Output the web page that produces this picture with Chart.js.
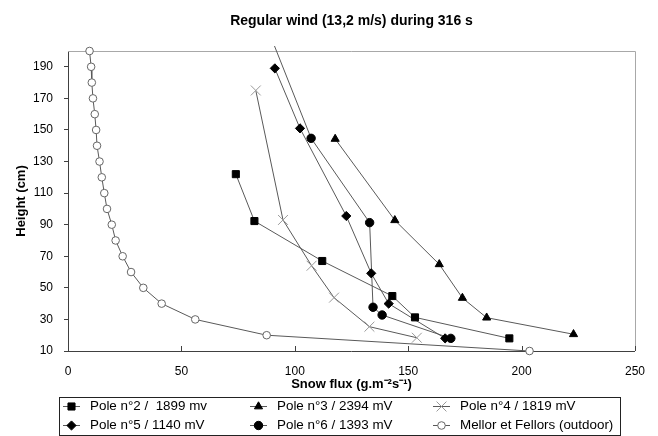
<!DOCTYPE html>
<html>
<head>
<meta charset="utf-8">
<script src="https://cdn.jsdelivr.net/npm/chart.js@4/dist/chart.umd.min.js"></script>
<style>
  html, body { margin: 0; padding: 0; background: #fff; }
</style>
</head>
<body>
<canvas id="chart" width="658" height="436"></canvas>
<script>
// values (x = snow flux, y = height)
const yTicks = [10, 30, 50, 70, 90, 110, 130, 150, 170, 190];

const pole2Flux   = [74, 82.2, 112.1, 143, 153, 194.6];
const pole2Height = [122, 92.3, 67, 44.8, 31.3, 18];

const pole3Flux   = [117.8, 144.1, 163.7, 173.9, 184.6, 222.9];
const pole3Height = [144.3, 92.8, 64.9, 43.6, 31.1, 20.6];

const pole4Flux   = [82.8, 94.8, 107.4, 117.3, 132.9, 153.8];
const pole4Height = [175, 93, 64, 43.8, 25.4, 18.4];

const pole5Flux   = [91.2, 102.3, 122.7, 133.7, 141.4, 166.3];
const pole5Height = [189, 151, 95.5, 59.2, 40, 18];

const pole6Flux   = [86.4, 107.2, 133, 134.5, 138.5, 168.8];
const pole6Height = [220, 144.7, 91.3, 37.7, 32.8, 18];

const mellorFlux   = [9.5, 10.2, 10.5, 11, 11.8, 12.4, 12.8, 13.9, 14.9, 16, 17.2, 19.3, 21, 24.1, 27.8, 33.2, 41.3, 56.1, 87.6, 203.5];
const mellorHeight = [200, 190, 180, 170, 160, 150, 140, 130, 120, 110, 100, 90, 80, 70, 60, 50, 40, 30, 20, 10];

const pts = (xs, ys) => xs.map((x, k) => ({ x, y: ys[k] }));

Chart.defaults.font.family = '"Liberation Sans", Arial, sans-serif';
Chart.defaults.font.size = 12;
Chart.defaults.color = '#000';

const LINE = '#595959';

function series(label, xs, ys, style, radius, fill, stroke) {
  return {
    label,
    data: pts(xs, ys),
    showLine: true,
    borderColor: LINE,
    borderWidth: 1,
    tension: 0,
    pointStyle: style,
    pointRadius: radius,
    pointBackgroundColor: fill,
    pointBorderColor: stroke,
    pointBorderWidth: 1,
    clip: false,
  };
}

const datasets = [
  series('Pole n°2 /  1899 mv', pole2Flux, pole2Height, 'rect', 5, '#000', '#000'),
  series('Pole n°3 / 2394 mV', pole3Flux, pole3Height, 'triangle', 4.7, '#000', '#000'),
  series('Pole n°4 / 1819 mV', pole4Flux, pole4Height, 'crossRot', 7, '#999', '#999'),
  series('Pole n°5 / 1140 mV', pole5Flux, pole5Height, 'rectRot', 4.6, '#000', '#000'),
  series('Pole n°6 / 1393 mV', pole6Flux, pole6Height, 'circle', 4.2, '#000', '#000'),
  series('Mellor et Fellors (outdoor)', mellorFlux, mellorHeight, 'circle', 3.8, '#fff', '#666'),
];
// top point of pole 6 is above the axis: let only its line poke out a little
datasets[4].clip = { left: 0, top: 5, right: 0, bottom: 10 };

// grey frame on top/right and inside tick marks on the x axis
const frame = {
  id: 'frame',
  beforeDatasetsDraw(chart) {
    const { ctx, chartArea: a, scales: { x } } = chart;
    ctx.save();
    ctx.lineWidth = 1;
    ctx.strokeStyle = '#a8a8a8';
    ctx.beginPath();
    ctx.moveTo(a.left, Math.round(a.top) + 0.5);
    ctx.lineTo(Math.round(a.right) + 0.5, Math.round(a.top) + 0.5);
    ctx.lineTo(Math.round(a.right) + 0.5, a.bottom);
    ctx.stroke();
    ctx.strokeStyle = '#404040';
    x.ticks.forEach(t => {
      const px = Math.round(x.getPixelForValue(t.value)) + 0.5;
      ctx.beginPath();
      ctx.moveTo(px, a.bottom - 5);
      ctx.lineTo(px, a.bottom);
      ctx.stroke();
    });
    ctx.restore();
  }
};

// boxed legend, 3 columns x 2 rows
const legendBox = {
  id: 'legendBox',
  afterDraw(chart) {
    const ctx = chart.ctx;
    const cols = [63, 250, 433];
    const rows = [406.5, 425.5];
    ctx.save();
    ctx.lineWidth = 1;
    ctx.strokeStyle = '#222';
    ctx.strokeRect(59.5, 397.5, 561, 38);
    ctx.font = '13.4px "Liberation Sans", Arial, sans-serif';
    ctx.textBaseline = 'middle';
    chart.data.datasets.forEach((ds, i) => {
      const x0 = cols[i % 3];
      const y = rows[Math.floor(i / 3)];
      ctx.strokeStyle = ds.borderColor;
      ctx.beginPath();
      ctx.moveTo(x0, y);
      ctx.lineTo(x0 + 17, y);
      ctx.stroke();
      ctx.fillStyle = ds.pointBackgroundColor;
      ctx.strokeStyle = ds.pointBorderColor;
      Chart.helpers.drawPoint(ctx, {
        pointStyle: ds.pointStyle, radius: ds.pointRadius, borderWidth: 1, rotation: 0
      }, x0 + 8.5, y);
      ctx.fillStyle = '#000';
      ctx.fillText(ds.label, x0 + 27, y);
    });
    ctx.restore();
  }
};

new Chart(document.getElementById('chart'), {
  type: 'scatter',
  data: { datasets },
  options: {
    responsive: false,
    animation: false,
    layout: { padding: { left: 0, right: 21, top: 0, bottom: 44 } },
    plugins: {
      legend: { display: false },
      tooltip: { enabled: false },
      title: {
        display: true,
        text: 'Regular wind (13,2 m/s) during 316 s',
        fullSize: false,
        font: { size: 14, weight: 'bold' },
        color: '#000',
        padding: { top: 12.6, bottom: 21.6 },
      },
    },
    scales: {
      x: {
        type: 'linear',
        min: 0,
        max: 250,
        ticks: { stepSize: 50, padding: 13, color: '#000', maxRotation: 0 },
        grid: { display: true, drawOnChartArea: false, drawTicks: false },
        border: { display: true, color: '#404040', width: 1 },
        title: {
          display: true,
          text: 'Snow flux (g.m⁻²s⁻¹)',
          font: { size: 13, weight: 'bold' },
          color: '#000',
          padding: { top: 0, bottom: 0 },
        },
        afterFit(s) { s.height = 41; },
      },
      y: {
        type: 'linear',
        min: 10,
        max: 200,
        afterBuildTicks(s) { s.ticks = yTicks.map(v => ({ value: v })); },
        ticks: { padding: 11, color: '#000' },
        grid: { display: true, drawOnChartArea: false, drawTicks: true, tickLength: 4, color: '#404040' },
        border: { display: true, color: '#404040', width: 1 },
        title: {
          display: true,
          text: 'Height (cm)',
          font: { size: 13, weight: 'bold' },
          color: '#000',
          padding: { top: 14, bottom: 0 },
        },
        afterFit(s) { s.width = 68; },
      },
    },
  },
  plugins: [frame, legendBox],
});
</script>
</body>
</html>
